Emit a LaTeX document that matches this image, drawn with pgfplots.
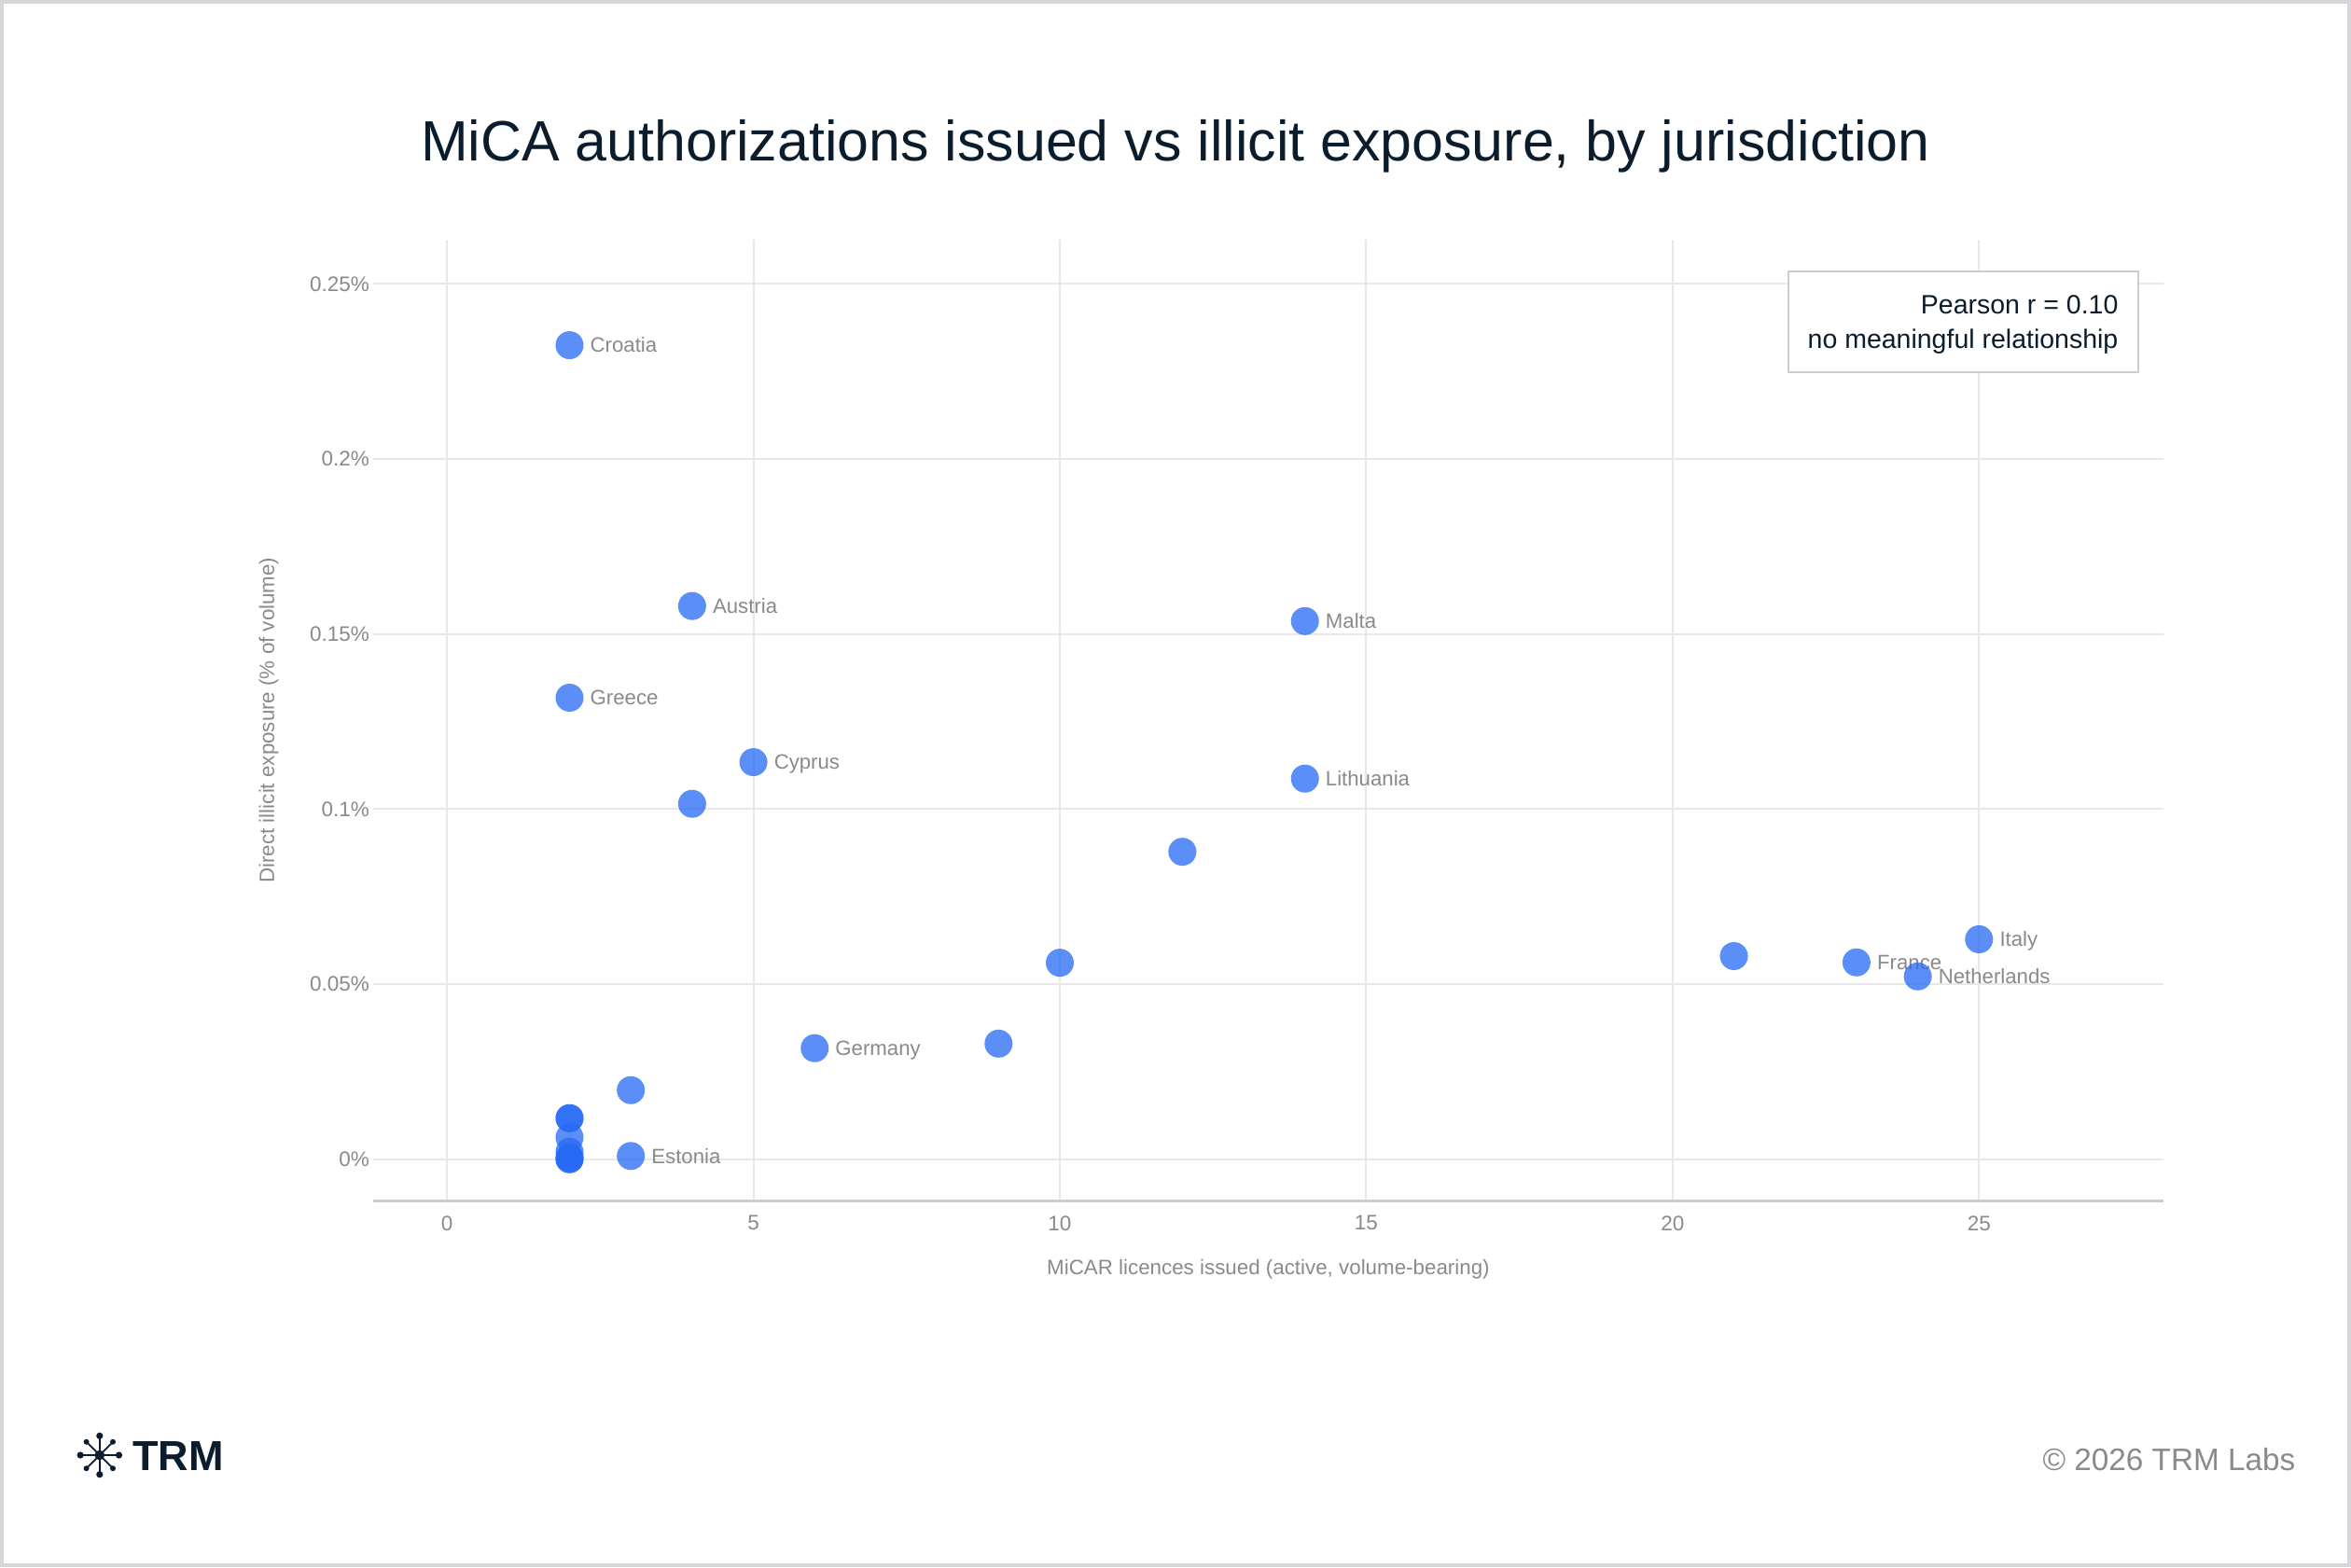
\documentclass[border=0pt]{standalone}
\usepackage{fontspec}
\setmainfont{Liberation Sans}
\usepackage{pgfplots}
\pgfplotsset{compat=1.18}
\definecolor{navy}{HTML}{0B1D2C}
\definecolor{ticktxt}{HTML}{8A8A8A}
\definecolor{gridc}{HTML}{E8E8E8}
\definecolor{axisc}{HTML}{CCCCCC}
\definecolor{dotc}{RGB}{37,105,245}
\definecolor{framec}{HTML}{D6D6DA}
\begin{document}
\begin{tikzpicture}
\useasboundingbox (0,0) rectangle (840pt,560pt);
\fill[framec] (0,0) rectangle (840pt,560pt);
\fill[white] (1.4pt,1.4pt) rectangle (838.6pt,558.6pt);
\begin{axis}[
  at={(133.3pt,131pt)}, anchor=south west,
  scale only axis, width=639.7pt, height=343.3pt,
  xmin=-1.206, xmax=28.01, ymin=-0.01181, ymax=0.2626,
  axis line style={draw=none},
  major tick length=0pt,
  xtick={0,5,10,15,20,25},
  ytick={0,0.05,0.1,0.15,0.2,0.25},
  yticklabels={0\%,0.05\%,0.1\%,0.15\%,0.2\%,0.25\%},
  /pgf/number format/assume math mode=true,
  grid=major,
  major grid style={draw=gridc, line width=0.65pt},
  ticklabel style={font=\fontsize{7.5}{9}\selectfont, text=ticktxt},
  xticklabel style={anchor=north, inner sep=0pt, yshift=-5.3pt},
  yticklabel style={anchor=east, inner xsep=1.1pt, inner ysep=0pt},
  xlabel={MiCAR licences issued (active, volume-bearing)},
  ylabel={Direct illicit exposure (\% of volume)},
  xlabel style={at={(axis description cs:0.5,-0.0775)}, anchor=base, font=\fontsize{7.45}{9}\selectfont, text=ticktxt},
  ylabel style={at={(axis description cs:-0.0583,0.5)}, anchor=center, rotate=0, font=\fontsize{7.45}{9}\selectfont, text=ticktxt},
  clip=false,
]
% labels
\addplot[draw=none, mark=none, nodes near coords, point meta=explicit symbolic,
  nodes near coords style={anchor=base west, inner sep=0pt, xshift=7.2pt, yshift=-2.6pt, font=\fontsize{7.4}{9}\selectfont, text=ticktxt}]
coordinates {
 (2,0.2325) [Croatia]
 (2,0.1318) [Greece]
 (4,0.1580) [Austria]
 (5,0.1134) [Cyprus]
 (14,0.1537) [Malta]
 (14,0.1087) [Lithuania]
 (6,0.0317) [Germany]
 (3,0.0009) [Estonia]
 (23,0.0562) [France]
 (24,0.0522) [Netherlands]
 (25,0.0628) [Italy]
};
% points
\addplot[only marks, mark=*, color=dotc, mark size=5pt, mark options={fill=dotc, draw=dotc, draw opacity=0, fill opacity=0.75}]
coordinates {
 (2,0.2325) (2,0.1318) (2,0.0117) (2,0.0117) (2,0.0062) (2,0.0021) (2,0.0005) (2,0.0) (2,0.0)
 (3,0.0197) (3,0.0009)
 (4,0.1580) (4,0.1015)
 (5,0.1134)
 (6,0.0317)
 (9,0.0330)
 (10,0.0561)
 (12,0.0878)
 (14,0.1537) (14,0.1087)
 (21,0.0580)
 (23,0.0562)
 (24,0.0522)
 (25,0.0628)
};
\draw[axisc, line width=1pt] (rel axis cs:0,0) -- (rel axis cs:1,0);
\end{axis}
% title
\node[anchor=base, text=navy, font=\fontsize{20.3}{24}\selectfont, inner sep=0pt] at (420pt,502.5pt) {MiCA authorizations issued vs illicit exposure, by jurisdiction};
% annotation box
\draw[fill=white, draw=axisc, line width=0.6pt] (639pt,427pt) rectangle (764pt,463pt);
\node[anchor=base east, inner sep=0pt, text=navy, font=\fontsize{9.5}{11}\selectfont] at (757pt,447.9pt) {Pearson r = 0.10};
\node[anchor=base east, inner sep=0pt, text=navy, font=\fontsize{9.5}{11}\selectfont] at (757pt,435.4pt) {no meaningful relationship};
% logo
\begin{scope}[shift={(35.6pt,40pt)}, navy]
  \foreach \a in {0,90,180,270} {
    \draw[line width=0.6pt] (0,0) -- (\a:6.9pt);
    \fill (\a:6.9pt) circle (1.2pt);
  }
  \foreach \a in {45,135,225,315} {
    \draw[line width=0.6pt] (0,0) -- (\a:6.7pt);
    \fill (\a:6.7pt) circle (1pt);
  }
  \fill (0,0) circle (1.8pt);
\end{scope}
\node[anchor=base west, inner sep=0pt, text=navy, font=\fontsize{15}{18}\selectfont\bfseries] at (47.2pt,34.4pt) {TRM};
% copyright
\node[anchor=base east, inner sep=0pt, text=ticktxt, font=\fontsize{11.1}{13}\selectfont] at (820.3pt,34.4pt) {\textcopyright{} 2026 TRM Labs};
\end{tikzpicture}
\end{document}
